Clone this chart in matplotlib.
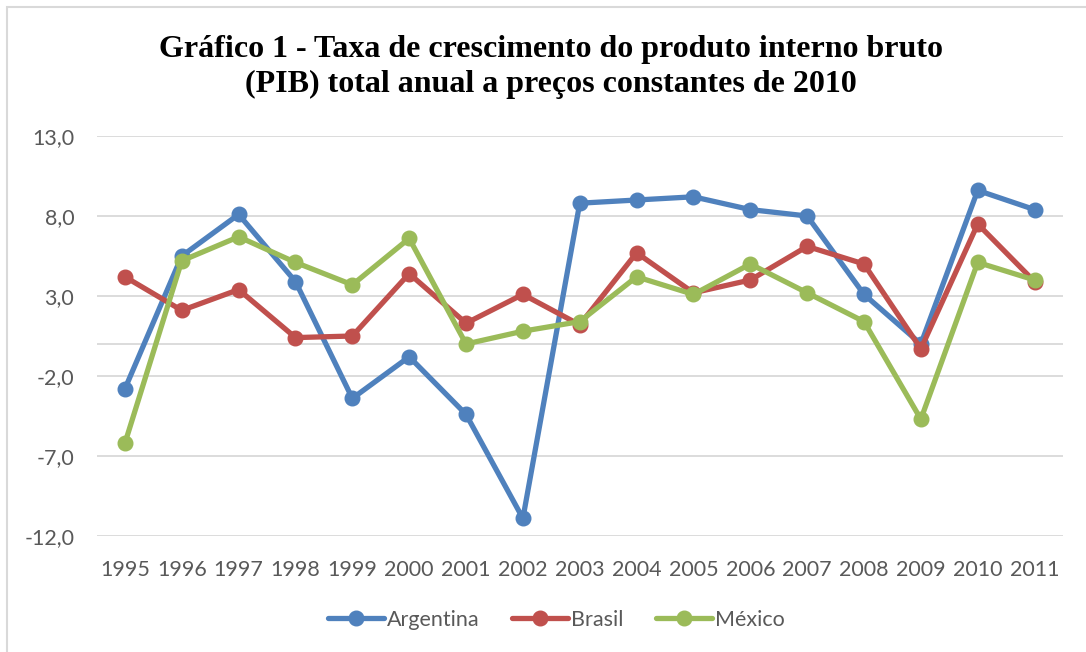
import matplotlib.pyplot as plt
from matplotlib.patches import Rectangle
import numpy as np

anos = ['1995', '1996', '1997', '1998', '1999', '2000', '2001', '2002', '2003',
        '2004', '2005', '2006', '2007', '2008', '2009', '2010', '2011']
argentina = [-2.8, 5.5, 8.1, 3.9, -3.4, -0.8, -4.4, -10.9, 8.8, 9.0, 9.2, 8.4, 8.0, 3.1, 0.0, 9.6, 8.4]
brasil = [4.2, 2.1, 3.4, 0.4, 0.5, 4.4, 1.3, 3.1, 1.2, 5.7, 3.2, 4.0, 6.1, 5.0, -0.3, 7.5, 3.9]
mexico = [-6.2, 5.2, 6.7, 5.1, 3.7, 6.6, 0.0, 0.8, 1.4, 4.2, 3.1, 5.0, 3.2, 1.4, -4.7, 5.1, 4.0]
yticks = [-12, -7, -2, 3, 8, 13]

cores = {'Argentina': '#4f81bd', 'Brasil': '#c0504d', 'México': '#9bbb59'}
fonte = ['Lato', 'DejaVu Sans']

fig = plt.figure(figsize=(10.86, 6.52), dpi=100)
# moldura do gráfico (só aparece em cima e à esquerda)
fig.patches.append(Rectangle((7 / 1086, -0.1), 1.2, 0.1 + (652 - 7) / 652,
                             transform=fig.transFigure, fill=False,
                             edgecolor='#d9d9d9', linewidth=1.5))

ax = fig.add_axes([96.5 / 1086, 1 - 536 / 652, (1063 - 96.5) / 1086, (536 - 136) / 652])
x = np.arange(len(anos))

for nome, serie in [('Argentina', argentina), ('Brasil', brasil), ('México', mexico)]:
    ax.plot(x, serie, color=cores[nome], linewidth=3.8, marker='o', markersize=10.5,
            label=nome, solid_capstyle='round', zorder=3)

ax.set_xlim(-0.5, len(anos) - 0.5)
ax.set_ylim(-12, 13)
ax.set_yticks(yticks)
ax.set_yticklabels([f'{v:.1f}'.replace('.', ',') for v in yticks])
ax.set_xticks(x)
ax.set_xticklabels(anos)
ax.grid(axis='y', color='#d9d9d9', linewidth=1.3)
ax.axhline(0, color='#d9d9d9', linewidth=1.3, zorder=1)
for s in ax.spines.values():
    s.set_visible(False)
ax.tick_params(length=0, labelsize=15.5, labelcolor='#595959')
for t in ax.get_xticklabels() + ax.get_yticklabels():
    t.set_family(fonte)
ax.tick_params(axis='x', pad=17)
ax.tick_params(axis='y', pad=16)

fig.text(0.507, 1 - 67 / 652, 'Gráfico 1 - Taxa de crescimento do produto interno bruto\n'
         '(PIB) total anual a preços constantes de 2010',
         ha='center', va='center', fontsize=23, fontweight='bold',
         family='Liberation Serif', linespacing=1.3)

leg = fig.legend(loc='center', bbox_to_anchor=(0.512, 1 - 620 / 652), ncol=3, frameon=False,
                 prop={'family': fonte, 'size': 15.5}, handlelength=2.6,
                 columnspacing=1.5, handletextpad=0.15)
for t in leg.get_texts():
    t.set_color('#595959')

fig.savefig('out.png', dpi=100)
